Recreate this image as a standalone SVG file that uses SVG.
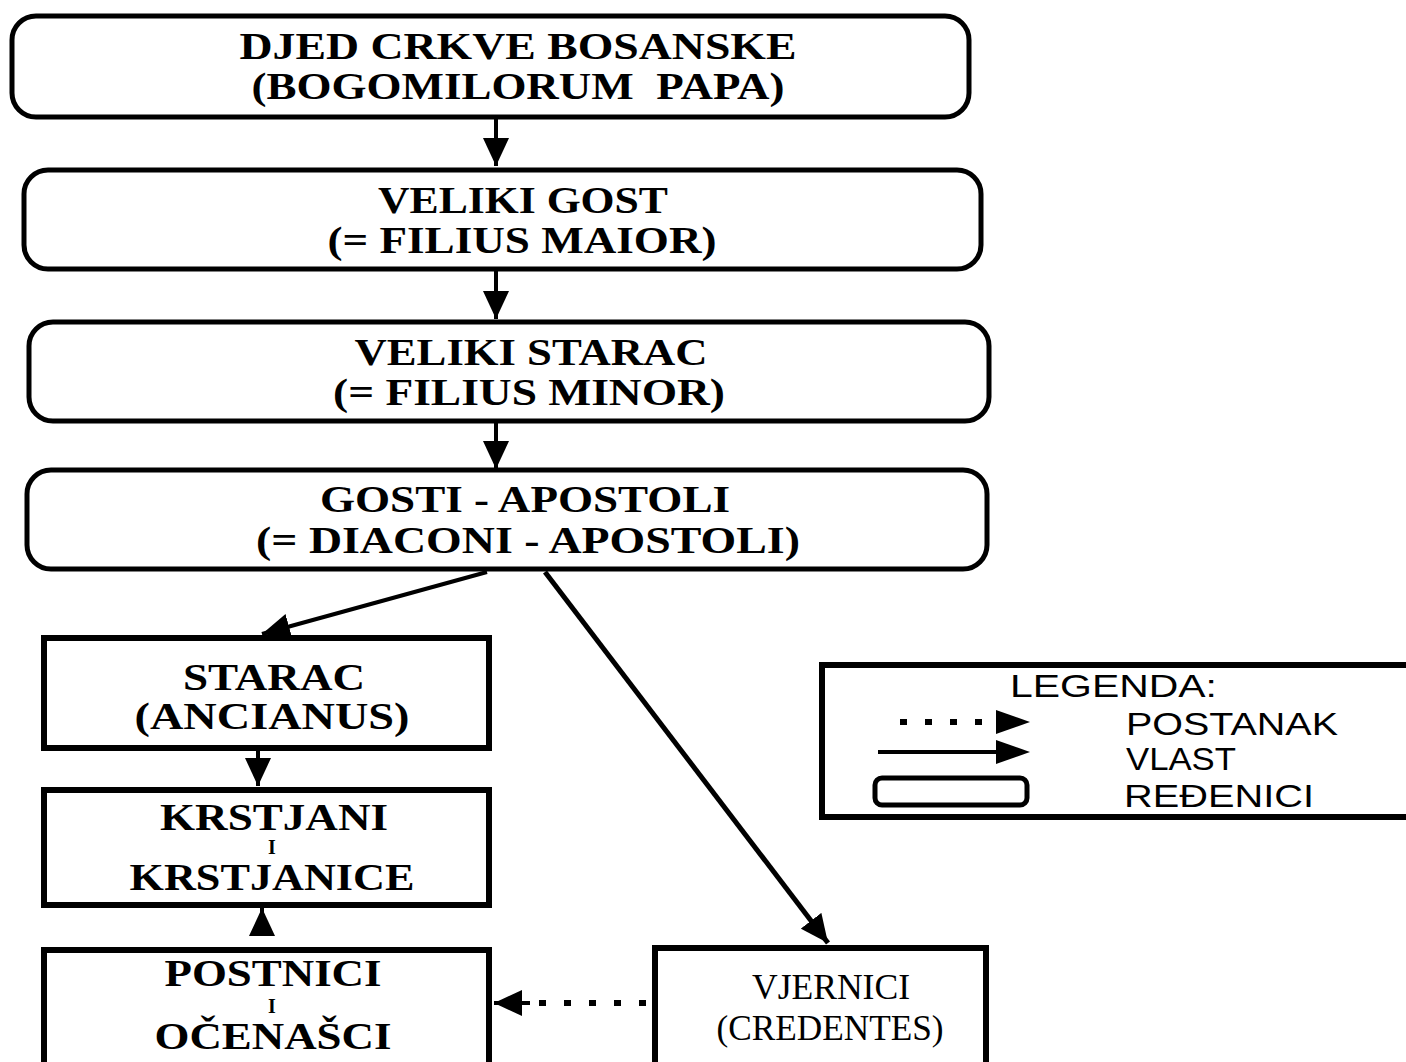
<svg xmlns="http://www.w3.org/2000/svg" width="1406" height="1062" viewBox="0 0 1406 1062">
<style>
.bg{fill:#fff}
.rbox{fill:#fff;stroke:#000;stroke-width:5}
.sbox{fill:#fff;stroke:#000;stroke-width:6}
.t{font-family:"Liberation Serif","Times New Roman",serif;font-weight:bold;fill:#000;text-anchor:middle}
.tl{font-size:38px}
.ts{font-size:38px}
.ti{font-size:20px}
.tv{font-weight:normal;font-size:35px}
.lg{font-family:"Liberation Sans",Arial,sans-serif;font-size:31px;fill:#000}
.c{stroke:#000;stroke-width:4;fill:none}
.d{stroke:#000;stroke-width:6;fill:none;stroke-dasharray:7 18}
</style>
<defs>
<marker id="ah" markerUnits="userSpaceOnUse" markerWidth="30" markerHeight="26" refX="28" refY="13" orient="auto">
<path d="M0,0 L28,13 L0,26 Z" fill="#000"/>
</marker>
</defs>
<rect class="bg" x="0" y="0" width="1406" height="1062"/>

<g id="connectors">
<line class="c" x1="496" y1="118" x2="496" y2="166" marker-end="url(#ah)"/>
<line class="c" x1="496" y1="270" x2="496" y2="319" marker-end="url(#ah)"/>
<line class="c" x1="496" y1="422" x2="496" y2="469" marker-end="url(#ah)"/>
<line class="c" x1="487" y1="572" x2="262" y2="634" marker-end="url(#ah)"/>
<line class="c" style="stroke-width:5" x1="545" y1="572" x2="828" y2="943" marker-end="url(#ah)"/>
<line class="c" x1="258" y1="749" x2="258" y2="786" marker-end="url(#ah)"/>
<line class="d" x1="262" y1="935" x2="262" y2="925"/>
<line class="c" x1="262" y1="930" x2="262" y2="908" marker-end="url(#ah)"/>
<line class="d" x1="646" y1="1003" x2="520" y2="1003"/>
<line class="c" x1="530" y1="1003" x2="494" y2="1003" marker-end="url(#ah)"/>
</g>

<g id="n1">
<rect class="rbox" x="12" y="16" width="957" height="101" rx="24"/>
<text class="t tl" x="518" y="59" textLength="557" lengthAdjust="spacingAndGlyphs">DJED CRKVE BOSANSKE</text>
<text class="t tl" x="518" y="99" textLength="533" lengthAdjust="spacingAndGlyphs" xml:space="preserve">(BOGOMILORUM  PAPA)</text>
</g>
<g id="n2">
<rect class="rbox" x="24" y="170" width="957" height="99" rx="24"/>
<text class="t tl" x="523" y="213" textLength="290" lengthAdjust="spacingAndGlyphs">VELIKI GOST</text>
<text class="t tl" x="522" y="253" textLength="389" lengthAdjust="spacingAndGlyphs">(= FILIUS MAIOR)</text>
</g>
<g id="n3">
<rect class="rbox" x="29" y="322" width="960" height="99" rx="24"/>
<text class="t tl" x="531" y="365" textLength="353" lengthAdjust="spacingAndGlyphs">VELIKI STARAC</text>
<text class="t tl" x="529" y="405" textLength="392" lengthAdjust="spacingAndGlyphs">(= FILIUS MINOR)</text>
</g>
<g id="n4">
<rect class="rbox" x="27" y="470" width="960" height="99" rx="24"/>
<text class="t tl" x="525" y="512" textLength="410" lengthAdjust="spacingAndGlyphs">GOSTI - APOSTOLI</text>
<text class="t tl" x="528" y="553" textLength="544" lengthAdjust="spacingAndGlyphs">(= DIACONI - APOSTOLI)</text>
</g>
<g id="n5">
<rect class="sbox" x="44" y="638" width="445" height="110"/>
<text class="t ts" x="274" y="690" textLength="182" lengthAdjust="spacingAndGlyphs">STARAC</text>
<text class="t ts" x="272" y="729" textLength="275" lengthAdjust="spacingAndGlyphs">(ANCIANUS)</text>
</g>
<g id="n6">
<rect class="sbox" x="44" y="790" width="445" height="115"/>
<text class="t ts" x="274" y="830" textLength="228" lengthAdjust="spacingAndGlyphs">KRSTJANI</text>
<text class="t ti" x="272" y="854">I</text>
<text class="t ts" x="272" y="890" textLength="285" lengthAdjust="spacingAndGlyphs">KRSTJANICE</text>
</g>
<g id="n7">
<rect class="sbox" x="44" y="950" width="445" height="130"/>
<text class="t ts" x="273" y="986" textLength="217" lengthAdjust="spacingAndGlyphs">POSTNICI</text>
<text class="t ti" x="272" y="1013">I</text>
<text class="t ts" x="273" y="1049" textLength="237" lengthAdjust="spacingAndGlyphs">OČENAŠCI</text>
</g>
<g id="n8">
<rect class="sbox" x="655" y="948" width="331" height="130"/>
<text class="t tv" x="831" y="999" textLength="158" lengthAdjust="spacingAndGlyphs">VJERNICI</text>
<text class="t tv" x="830" y="1040" textLength="227" lengthAdjust="spacingAndGlyphs">(CREDENTES)</text>
</g>
<g id="legend">
<rect class="sbox" x="822" y="665" width="600" height="152"/>
<text class="lg" x="1010" y="697" textLength="207" lengthAdjust="spacingAndGlyphs">LEGENDA:</text>
<line class="d" x1="900" y1="722" x2="992" y2="722"/>
<path d="M996,710 L1030,722 L996,734 Z" fill="#000"/>
<text class="lg" x="1126" y="735" textLength="212" lengthAdjust="spacingAndGlyphs">POSTANAK</text>
<line class="c" x1="878" y1="752" x2="1000" y2="752"/>
<path d="M996,740 L1030,752 L996,764 Z" fill="#000"/>
<text class="lg" x="1126" y="770" textLength="110" lengthAdjust="spacingAndGlyphs">VLAST</text>
<rect x="875" y="778" width="152" height="27" rx="7" fill="#fff" stroke="#000" stroke-width="5"/>
<text class="lg" x="1124" y="807" textLength="190" lengthAdjust="spacingAndGlyphs">REĐENICI</text>
</g>
</svg>
